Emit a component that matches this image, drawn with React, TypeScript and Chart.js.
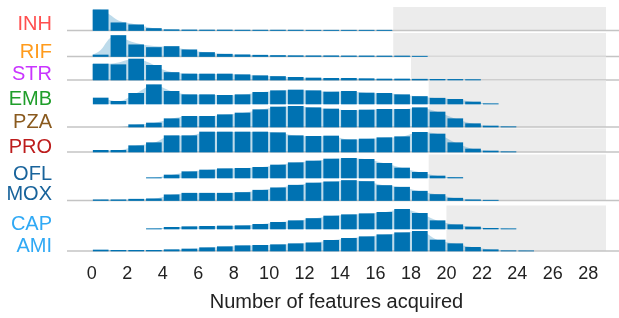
import { useEffect, useRef } from "react";
import { Chart, registerables } from "chart.js";

Chart.register(...registerables);

// ---------- data ----------
const DRUGS = ["INH", "RIF", "STR", "EMB", "PZA", "PRO", "OFL", "MOX", "CAP", "AMI"];
const DRUG_COLORS = ["#ff4f4f", "#ff9b1c", "#c935ff", "#1f9e2a", "#8a5a1e", "#bd1c1c", "#18639b", "#18639b", "#2fa9f5", "#2fa9f5"];
const X_TICKS = [0, 2, 4, 6, 8, 10, 12, 14, 16, 18, 20, 22, 24, 26, 28];
const X_TITLE = "Number of features acquired";

// histogram heights for bins [k, k+1), k = 0, 1, 2, ...
const INH = [20.7, 7.7, 5.7, 2.0, 0.8, 0.6, 0.5, 0.5, 0.4, 0.4, 0.4, 0.4, 0.3, 0.3, 0.3, 0.3, 0.3];
const RIF = [1.5, 21, 11.7, 9, 10, 6.7, 4, 2.3, 1.7, 1.3, 1.0, 0.8, 0.7, 0.7, 0.6, 0.6, 0.5, 0.5, 0.3];
const STR = [16, 15.3, 21, 14.7, 7.5, 6, 6, 6, 5.3, 4.3, 3.5, 2.7, 2, 1.7, 1.7, 1.3, 1, 1, 0.8, 0.7, 0.6, 0.4];
const EMB = [6, 2.7, 10.7, 19.3, 12.7, 9.3, 9.3, 8.7, 9.3, 11.7, 13.3, 14, 13.3, 12, 12.7, 11, 10.7, 9.3, 7.5, 5.8, 4.7, 2, 0.3];
const PZA = [0, 0, 2.3, 4, 8.3, 10.7, 10.7, 12.3, 14, 17.3, 20, 20.7, 19.3, 18, 16.7, 17, 17.7, 17.7, 19.3, 15, 8.3, 3.3, 1, 0.3];
const PRO = [1.7, 1.7, 6.3, 9.3, 16.3, 16.3, 20, 20, 20, 20, 19.3, 16.3, 15.7, 16, 12.3, 13, 14.3, 15.3, 19.7, 18, 9.3, 3, 1, 0.3];
const OFL = [0, 0, 0, 0.3, 3, 6.3, 8, 9.3, 9.7, 10.7, 13, 15.3, 17, 19, 19.7, 18.7, 14.7, 10, 5.7, 2, 0.5];
const MOX = [0.7, 0.7, 1.3, 1.7, 5.7, 7.3, 7.3, 7.3, 8, 10.3, 12.7, 15.3, 17.5, 18.7, 20, 19, 15, 13.3, 9.3, 6, 2.3, 0.7, 0.3];
const CAP = [0, 0, 0, 0.3, 1.7, 2.3, 2.7, 3, 3.3, 4.7, 6.7, 8.3, 10.5, 13, 14.3, 15.3, 16.7, 19.7, 15.7, 8.3, 4.3, 2, 0.7, 0.3];
const AMI = [1, 0.7, 0.7, 0.7, 1.3, 2, 3.3, 4.3, 5.3, 5.7, 6.3, 7.3, 8.2, 10.7, 12.7, 14.3, 16.3, 18.3, 19.7, 11, 7.3, 3.7, 1.3, 0.3, 0.2];

// smoothed density curves read at x = 0, 0.5, 1, ... (where they differ visibly from the bars)
const INH_DENSITY = [20.7, 20.7, 16, 10, 7.7, 6, 4, 2.2, 1.2, 0.8, 0.6, 0.6, 0.5, 0.5, 0.5, 0.5, 0.4, 0.4, 0.4, 0.4, 0.4, 0.4, 0.4, 0.4, 0.3, 0.3, 0.3, 0.3, 0.3, 0.3, 0.3, 0.3, 0.3, 0.3, 0.2];
const RIF_DENSITY = [1.5, 6.5, 18, 21, 16.5, 13.5, 11.5, 10.5, 10, 9.5, 8, 6.5, 5, 4, 3, 2.4, 2, 1.7, 1.5, 1.3, 1.1, 1, 0.9, 0.8, 0.7, 0.7, 0.7, 0.7, 0.6, 0.6, 0.6, 0.6, 0.5, 0.5, 0.5, 0.5, 0.4, 0.3, 0.1];
const STR_DENSITY = [16, 16, 16.3, 17.5, 20, 21, 19, 15, 10.5, 8, 6.8, 6.3, 6.1, 6, 6, 6, 5.7, 5.3, 4.8, 4.3, 3.9, 3.5, 3.1, 2.7, 2.3, 2, 1.8, 1.7, 1.7, 1.7, 1.5, 1.3, 1.1, 1, 1, 1, 0.9, 0.8, 0.7, 0.7, 0.6, 0.6, 0.5, 0.4, 0.1];

// drug groups and the start of the shaded region for each group
const GROUPS = [[0], [1], [2], [3, 4], [5], [6, 7], [8, 9]];
const SHADE_START = [17, 17, 18, 19, 19, 19, 20];
const SHADE_END = 29;

const SERIES = [INH, RIF, STR, EMB, PZA, PRO, OFL, MOX, CAP, AMI];
const DENSITIES: (number[] | null)[] = [INH_DENSITY, RIF_DENSITY, STR_DENSITY, null, null, null, null, null, null, null];

// ---------- layout (y units = pixels from top of plot area) ----------
const ROW_BASE = [30.5, 56.5, 80, 104, 127, 152, 178, 200.5, 229, 251];
const LABEL_Y = [24.5, 52, 74.5, 99.5, 122.5, 147.5, 174.5, 194.5, 224.5, 246];
const ROW_HEIGHT = 23.5;
const FONT = "'Liberation Sans', Arial, Helvetica, sans-serif";
const BAR_COLOR = "#0072B2";
const DENSITY_COLOR = "rgba(0,114,178,0.26)";

const bgPlugin = {
  id: "ridgeBg",
  beforeDatasetsDraw(chart: any) {
    const { ctx, chartArea, scales } = chart;
    const xs = scales.x;
    const ys = scales.y;
    ctx.save();
    GROUPS.forEach((rows, g) => {
      const top = ROW_BASE[rows[0]] - ROW_HEIGHT;
      const bottom = ROW_BASE[rows[rows.length - 1]];
      const x0 = xs.getPixelForValue(SHADE_START[g]);
      const x1 = xs.getPixelForValue(SHADE_END);
      const y0 = ys.getPixelForValue(top);
      const y1 = ys.getPixelForValue(bottom);
      ctx.fillStyle = "#ececec";
      ctx.fillRect(x0, y0, x1 - x0, y1 - y0);
      ctx.strokeStyle = "#c4c4c4";
      ctx.lineWidth = 1.5;
      ctx.beginPath();
      ctx.moveTo(chartArea.left, y1);
      ctx.lineTo(chart.width, y1);
      ctx.stroke();
    });
    ctx.restore();
  },
};

export default function App() {
  const ref = useRef<HTMLCanvasElement>(null);
  useEffect(() => {
    if (!ref.current) return;
    const datasets: any[] = [];
    SERIES.forEach((vals, i) => {
      const base = ROW_BASE[i];
      datasets.push({
        type: "bar",
        data: vals
          .map((v, k) => ({ x: k + 0.5, y: [base - v, base], v }))
          .filter((d) => d.v > 0),
        backgroundColor: BAR_COLOR,
        borderWidth: 0,
        barThickness: 15,
        grouped: false,
        order: 1,
      });
      const dens = DENSITIES[i];
      const densData = dens
        ? dens.map((v, j) => ({ x: j * 0.5, y: base - v }))
        : vals.map((v, k) => ({ x: k + 0.5, y: base - v }));
      datasets.push({
        type: "line",
        data: densData,
        fill: { value: base },
        backgroundColor: DENSITY_COLOR,
        borderWidth: 0,
        borderColor: "rgba(0,0,0,0)",
        pointRadius: 0,
        cubicInterpolationMode: "monotone",
        order: 2,
      });
    });
    const chart = new Chart(ref.current, {
      type: "bar",
      data: { datasets },
      plugins: [bgPlugin],
      options: {
        animation: false,
        responsive: false,
        layout: { padding: { left: 0, right: 13, top: 0, bottom: 0 } },
        plugins: { legend: { display: false }, tooltip: { enabled: false } },
        scales: {
          x: {
            type: "linear",
            min: -1.4,
            max: SHADE_END,
            offset: false,
            grid: { display: false, drawTicks: false },
            border: { display: false },
            afterBuildTicks: (s: any) => {
              s.ticks = X_TICKS.map((v) => ({ value: v }));
            },
            afterFit: (s: any) => {
              s.height = 57;
              s.paddingLeft = 0;
              s.paddingRight = 0;
            },
            ticks: {
              autoSkip: false,
              maxRotation: 0,
              padding: 2,
              color: "#222",
              font: { size: 18, family: FONT },
              callback: (v: any) => String(v),
            },
            title: {
              display: true,
              text: X_TITLE,
              color: "#222",
              font: { size: 20, family: FONT },
              padding: { top: 4, bottom: 4 },
            },
          },
          y: {
            type: "linear",
            reverse: true,
            min: 0,
            max: 261,
            grid: { display: false, drawTicks: false },
            border: { display: false },
            afterBuildTicks: (s: any) => {
              s.ticks = LABEL_Y.map((v) => ({ value: v }));
            },
            afterFit: (s: any) => {
              s.width = 67;
              s.paddingTop = 0;
              s.paddingBottom = 0;
            },
            ticks: {
              autoSkip: false,
              padding: 15,
              font: { size: 20, family: FONT },
              color: (c: any) => DRUG_COLORS[c.index] || "#000",
              callback: (_v: any, i: number) => DRUGS[i],
            },
          },
        },
      },
    } as any);
    return () => chart.destroy();
  }, []);
  return (
    <div style={{ position: "absolute", left: 0, top: 0, width: 619, height: 318, background: "#fff" }}>
      <canvas ref={ref} width={619} height={318} style={{ display: "block" }} />
    </div>
  );
}
